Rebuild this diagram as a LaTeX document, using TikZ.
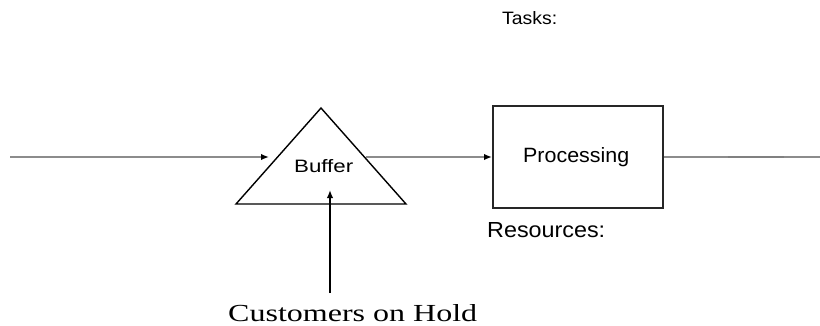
\documentclass[tikz,border=0pt]{standalone}
\usepackage{fontspec}
\setmainfont{Liberation Serif}
\setsansfont{Liberation Sans}
\usetikzlibrary{arrows.meta}
\tikzset{
  flow/.style={draw=black!45, line width=2.4pt,
    -{Latex[length=8pt,width=6.5pt,color=black]}},
  plain/.style={draw=black!45, line width=2.4pt},
  lbl/.style={inner sep=0pt, anchor=base west, font=\sffamily},
}
\begin{document}
\begin{tikzpicture}[x=1pt,y=-1pt]
  \useasboundingbox[fill=white] (0,0) rectangle (820,325);

  % buffer triangle
  \coordinate (apex) at (321,108);
  \coordinate (bl) at (236,204);
  \coordinate (br) at (406,204);
  \draw[line width=1.4pt, line join=miter] (bl) -- (apex) -- (br) -- cycle;
  \node[lbl] (buffer) at (294,172) {\resizebox{59pt}{13pt}{Buffer}};

  % processing box
  \node[draw=black!85, line width=2pt, minimum width=170pt, minimum height=102pt,
        inner sep=0pt] (proc) at (578,157) {};
  \node[lbl] (proctext) at (523,162) {\resizebox{106pt}{15pt}{Processing}};

  \node[lbl] (tasks) at (502,24) {\resizebox{55pt}{13pt}{Tasks:}};
  \node[lbl] (res) at (487,237) {\resizebox{118pt}{15pt}{Resources:}};

  \node[inner sep=0pt, anchor=base west] (hold) at (228,321)
    {\resizebox{249pt}{17pt}{Customers on Hold}};

  % flow connectors
  \coordinate (start) at (10,157);
  \coordinate (bufin) at (269,157);
  \coordinate (bufout) at (366,157);
  \coordinate (end) at (820,157);
  \coordinate (holdtop) at (330,293);
  \coordinate (holdtip) at (330,190);

  \draw[flow] (start) -- (bufin);
  \draw[flow] (bufout) -- (proc.west);
  \draw[plain] (proc.east) -- (728,157);
  \draw[draw=black!50, line width=1.2pt] (728,157) -- (784,157);
  \draw[plain] (784,157) -- (end);
  \draw[line width=1.6pt, -{Latex[length=8pt,width=6.5pt]}] (holdtop) -- (holdtip);
\end{tikzpicture}
\end{document}
